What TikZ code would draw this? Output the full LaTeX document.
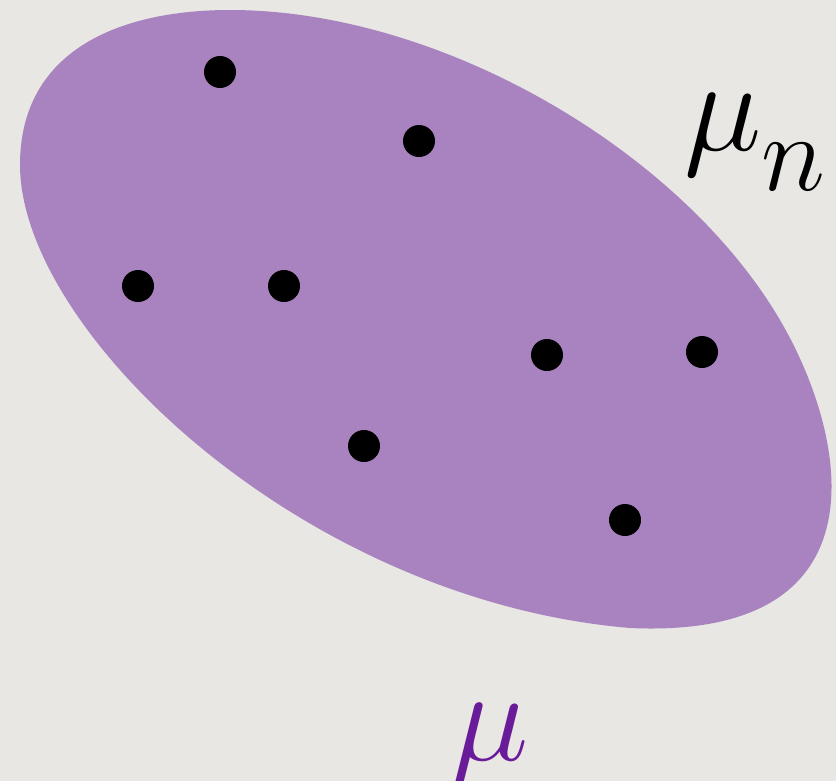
\documentclass[tikz,border=0pt]{standalone}
\usepackage{amsmath}
\usepackage{xcolor}
\usepackage{tikz}
\usetikzlibrary{positioning, calc}
\definecolor{bgpaper}{HTML}{E8E7E3}
\definecolor{blobfill}{HTML}{A983C0}
\definecolor{mupurple}{HTML}{6A1B9A}

\begin{document}
\begin{tikzpicture}[
    x=0.03cm, y=-0.03cm,
    sample/.style={circle, fill=black, inner sep=0pt, minimum size=0.96cm},
    biglabel/.style={inner sep=0pt, font=\Huge, scale=4.5, transform shape}
]
    % Background
    \fill[bgpaper] (0,0) rectangle (836,781);
    \useasboundingbox (0,0) rectangle (836,781);

    % Support of the measure
    \fill[blobfill] (230,10) .. controls (440,10) and (680,150) .. (780,320)
        .. controls (848,436) and (890,640) .. (630,628)
        .. controls (300,600) and (20,330) .. (20,165)
        .. controls (20,50) and (120,10) .. (230,10) -- cycle;

    % Samples
    \node[sample] (p1) at (220,72) {};
    \node[sample] (p2) at (419,141) {};
    \node[sample] (p3) at (138,286) {};
    \node[sample] (p4) at (284,286) {};
    \node[sample] (p5) at (547,355) {};
    \node[sample] (p6) at (702,352) {};
    \node[sample] (p7) at (364,446) {};
    \node[sample] (p8) at (625,520) {};

    % Labels
    \node[biglabel, anchor=base west] (empirical) at (683,150)
        {$\mu_{\lower4pt\hbox{$\scriptstyle n$}}$};
    \node[biglabel, anchor=base, text=mupurple] (truemeasure) at (490,760) {$\mu$};
\end{tikzpicture}
\end{document}
